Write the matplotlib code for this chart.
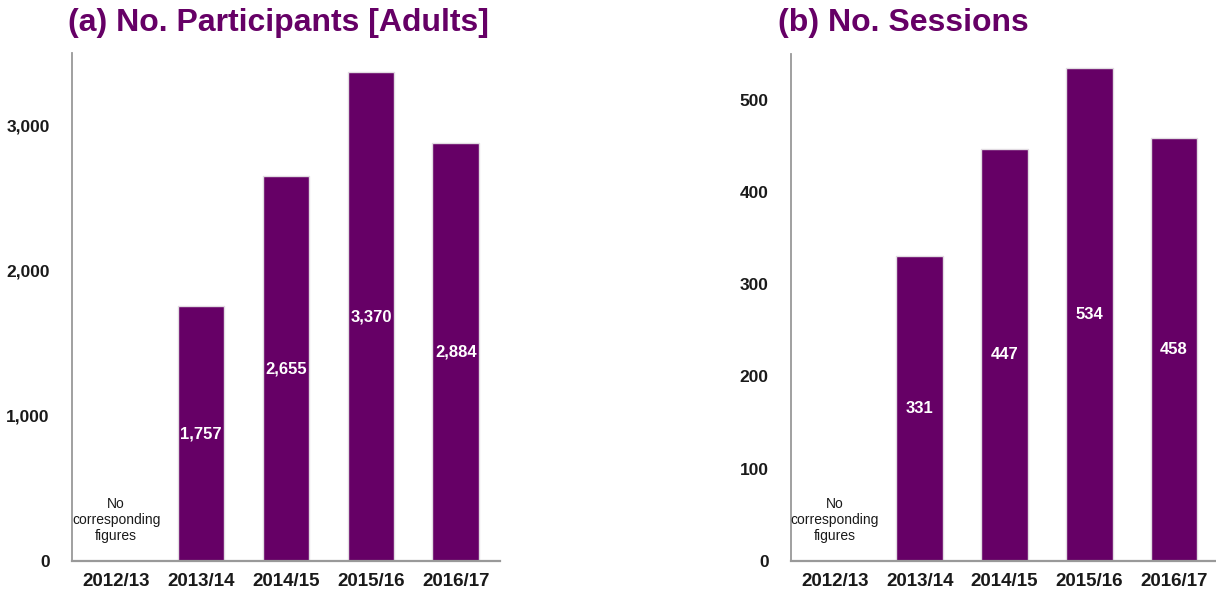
import matplotlib
matplotlib.use("Agg")
import matplotlib.pyplot as plt
import matplotlib.transforms as mtransforms
import numpy as np

plt.rcParams['font.family'] = ['Liberation Sans', 'DejaVu Sans']

years = ["2012/13", "2013/14", "2014/15", "2015/16", "2016/17"]
participants = [np.nan, 1757, 2655, 3370, 2884]
sessions = [np.nan, 331, 447, 534, 458]
participant_labels = ["", "1,757", "2,655", "3,370", "2,884"]
session_labels = ["", "331", "447", "534", "458"]
ticks_a = [0, 1000, 2000, 3000]
ticks_b = [0, 100, 200, 300, 400, 500]
title_a = "(a) No. Participants [Adults]"
title_b = "(b) No. Sessions"
missing_note = "No\ncorresponding\nfigures"

PURPLE = "#660066"
TXT = "#1a1a1a"

W, H = 1216, 597
fig = plt.figure(figsize=(W / 100, H / 100), dpi=100)

ax_a = fig.add_axes([72 / W, 1 - 561 / H, 428 / W, 507.5 / H])
ax_b = fig.add_axes([791 / W, 1 - 561 / H, 427 / W, 507.5 / H])


def draw(ax, values, labels, ticks, ymax, fmt):
    x = np.arange(len(years))
    vals = np.array(values, dtype=float)
    mask = ~np.isnan(vals)
    ax.bar(x[mask], vals[mask], width=0.55, color=PURPLE,
           edgecolor="#e2dce2", linewidth=1.0, zorder=2)
    for xi, v, lab in zip(x, vals, labels):
        if not np.isnan(v):
            ax.text(xi, v / 2, lab, ha="center", va="center", color="white",
                    fontsize=12, fontweight="bold", zorder=3)
    trans = mtransforms.blended_transform_factory(ax.transData, ax.transAxes)
    for xi, v in zip(x, vals):
        if np.isnan(v):
            ax.text(xi, 0.081, missing_note, transform=trans, ha="center",
                    va="center", fontsize=10, color=TXT, linespacing=1.2)
    ax.set_xlim(-0.52, 4.52)
    ax.set_ylim(0, ymax)
    ax.set_xticks(x)
    ax.set_xticklabels(years, fontsize=13.5, fontweight="bold", color=TXT)
    ax.set_yticks(ticks)
    ax.set_yticklabels([fmt(t) for t in ticks], fontsize=12.5,
                       fontweight="bold", color=TXT)
    ax.tick_params(axis="both", length=0)
    ax.tick_params(axis="y", pad=16)
    ax.tick_params(axis="x", pad=9)
    for s in ["top", "right"]:
        ax.spines[s].set_visible(False)
    ax.spines["left"].set_color("#999999")
    ax.spines["bottom"].set_color("#999999")
    ax.spines["left"].set_linewidth(1.3)
    ax.spines["bottom"].set_linewidth(1.6)


draw(ax_a, participants, participant_labels, ticks_a, 3500, lambda t: f"{t:,}")
draw(ax_b, sessions, session_labels, ticks_b, 550, lambda t: f"{t}")

fig.text(278 / W, 1 - 23 / H, title_a, ha="center", va="center",
         fontsize=23, fontweight="bold", color=PURPLE)
fig.text(903 / W, 1 - 23 / H, title_b, ha="center", va="center",
         fontsize=23, fontweight="bold", color=PURPLE)

fig.savefig("out.png", dpi=100, facecolor="white")
